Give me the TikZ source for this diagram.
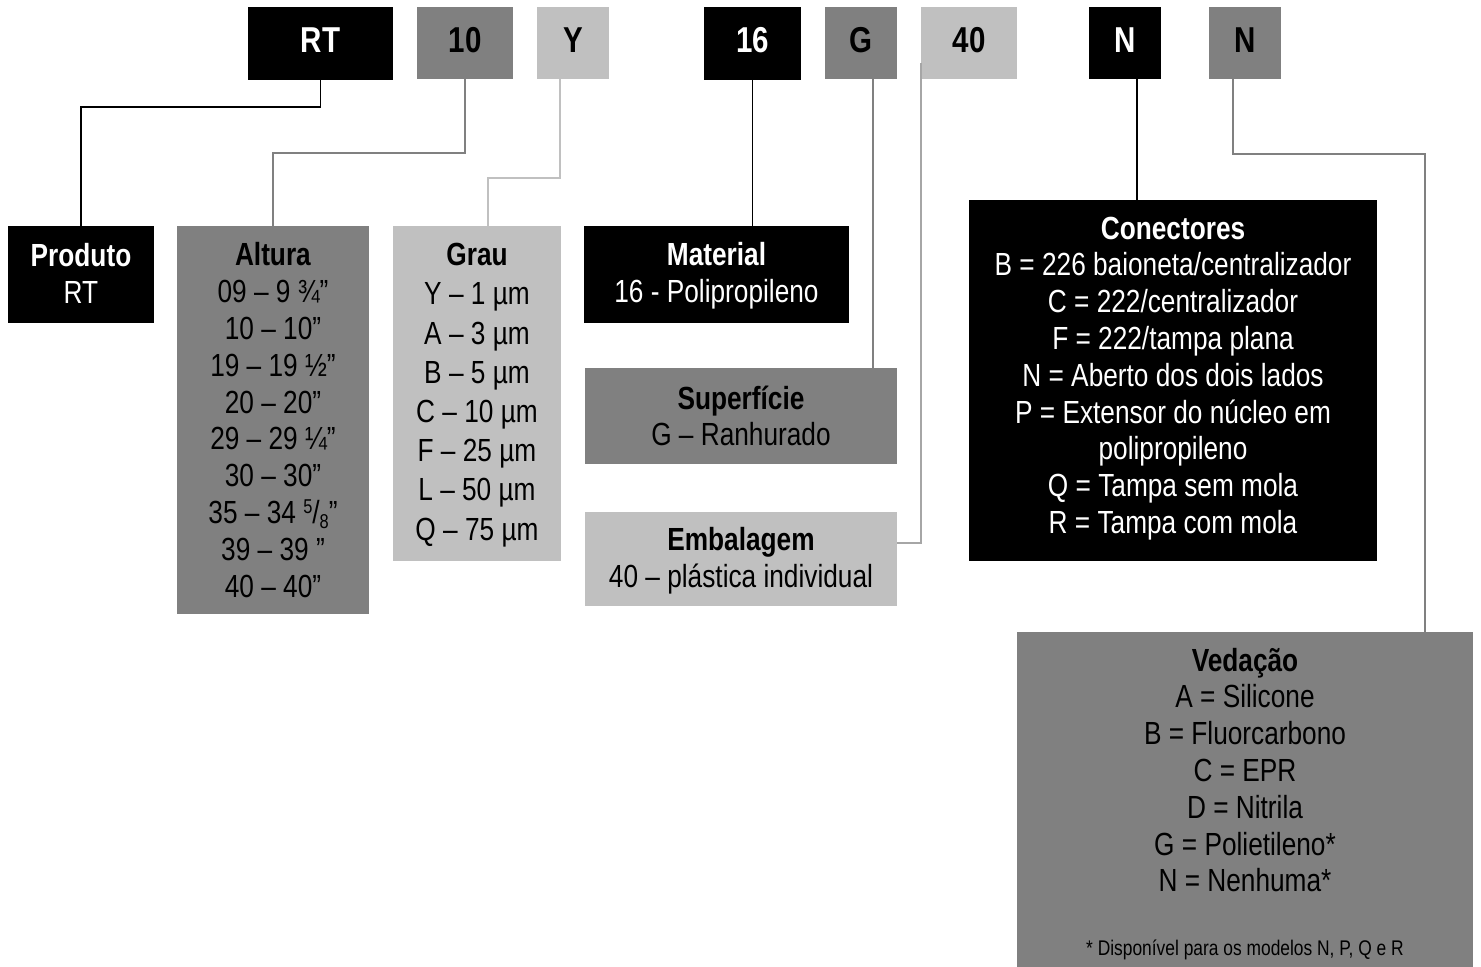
\documentclass[tikz,border=0pt]{standalone}
\usepackage{fontspec}
\setmainfont{Liberation Sans}[FakeStretch=0.82]
\usetikzlibrary{fit,calc}
\definecolor{cgray}{HTML}{808080}
\definecolor{clight}{HTML}{C0C0C0}
\definecolor{cline}{HTML}{A6A6A6}
\newcommand\fiveeighths{\raisebox{5pt}{\fontsize{10}{10}\selectfont 5}/\raisebox{-2.5pt}{\fontsize{10}{10}\selectfont 8}}
\begin{document}
\begin{tikzpicture}[x=0.5pt,y=-0.5pt,
  box/.style={inner sep=0pt, outer sep=0pt, draw=none},
  code/.style={font=\fontsize{18}{20}\selectfont\bfseries, inner sep=0pt},
  body/.style={align=center, font=\fontsize{16}{18.4}\selectfont, inner sep=0pt},
  ln/.style={line width=0.8pt, draw=#1}]
\useasboundingbox (0,0) rectangle (1481,967);
% top code boxes
\node[box, fill=black,  fit={(248,7)(393,80)}]   (rt)  {};
\node[box, fill=cgray,  fit={(417,7)(513,79)}]   (b10) {};
\node[box, fill=clight, fit={(537,7)(609,79)}]   (bY)  {};
\node[box, fill=black,  fit={(704,7)(801,80)}]   (b16) {};
\node[box, fill=cgray,  fit={(825,7)(897,79)}]   (bG)  {};
\node[box, fill=clight, fit={(921,7)(1017,79)}]  (b40) {};
\node[box, fill=black,  fit={(1089,7)(1161,79)}] (bN1) {};
\node[box, fill=cgray,  fit={(1209,7)(1281,79)}] (bN2) {};
\node[code, text=white] (trt)  at ($(rt.center)+(0,-3)$)  {RT};
\node[code]             (t10)  at ($(b10.center)+(0,-3)$) {10};
\node[code]             (tY)   at ($(bY.center)+(0,-3)$)  {Y};
\node[code, text=white] (t16)  at ($(b16.center)+(0,-3)$) {16};
\node[code]             (tG)   at ($(bG.center)+(0,-3)$)  {G};
\node[code]             (t40)  at ($(b40.center)+(0,-3)$) {40};
\node[code, text=white] (tN1)  at ($(bN1.center)+(0,-3)$) {N};
\node[code]             (tN2)  at ($(bN2.center)+(0,-3)$) {N};
% description boxes
\node[box, fill=black,  fit={(8,226)(154,323)}]     (prod) {};
\node[box, fill=cgray,  fit={(177,226)(369,614)}]   (alt)  {};
\node[box, fill=clight, fit={(393,226)(561,561)}]   (grau) {};
\node[box, fill=black,  fit={(584,226)(849,323)}]   (mat)  {};
\node[box, fill=cgray,  fit={(585,368)(897,464)}]   (sup)  {};
\node[box, fill=clight, fit={(585,512)(897,606)}]   (emb)  {};
\node[box, fill=black,  fit={(969,200)(1377,561)}]  (con)  {};
\node[box, fill=cgray,  fit={(1017,632)(1473,967)}] (ved)  {};
% texts
\node[body, text=white] (tprod) at ($(prod.center)+(0,-1)$) {\textbf{Produto}\\RT};
\node[body] (talt) at (alt.center) {\textbf{Altura}\\09 – 9 ¾”\\10 – 10”\\19 – 19 ½”\\20 – 20”\\29 – 29 ¼”\\30 – 30”\\35 – 34 \fiveeighths”\\39 – 39 ”\\40 – 40”};
\node[body, font=\fontsize{16}{19.6}\selectfont] (tgrau) at ($(grau.center)+(0,1.5)$) {\textbf{Grau}\\Y – 1 µm\\A – 3 µm\\B – 5 µm\\C – 10 µm\\F – 25 µm\\L – 50 µm\\Q – 75 µm};
\node[body, text=white] (tmat) at ($(mat.center)+(0,1)$) {\textbf{Material}\\16 - Polipropileno};
\node[body] (tsup) at (sup.center) {\textbf{Superfície}\\G – Ranhurado};
\node[body] (temb) at ($(emb.center)+(0,2)$) {\textbf{Embalagem}\\40 – plástica individual};
\node[body, text=white] (tcon) at ($(con.center)+(0,-2)$) {\textbf{Conectores}\\B = 226 baioneta/centralizador\\C = 222/centralizador\\F = 222/tampa plana\\N = Aberto dos dois lados\\P = Extensor do núcleo em\\polipropileno\\Q = Tampa sem mola\\R = Tampa com mola};
\node[body] (tved) at ($(ved.north)+(0,138)$) {\textbf{Vedação}\\A = Silicone\\B = Fluorcarbono\\C = EPR\\D = Nitrila\\G = Polietileno*\\N = Nenhuma*};
\node[body, font=\fontsize{10.6}{12}\selectfont] (tfoot) at ($(ved.north)+(0,318)$) {* Disponível para os modelos N, P, Q e R};
% connectors
\draw[ln=black] (rt.south) -- ++(0,27) -| (prod.north);
\draw[ln=cgray] (b10.south) -- ++(0,74) -| (alt.north);
\coordinate (yS) at ($(bY.south west)+(23,0)$);
\coordinate (yE) at ($(grau.north west)+(95,0)$);
\draw[ln=clight] (yS) -- ++(0,99) -| (yE);
\draw[ln=black] (b16.south) -- (b16.south |- mat.north);
\coordinate (gS) at ($(bG.south west)+(48,0)$);
\draw[ln=cgray] (gS) -- (gS |- sup.north);
\coordinate (fS) at ($(b40.south west)+(0,-16)$);
\draw[ln=cline] (fS) |- ($(emb.east)+(0,-16)$);
\coordinate (nS) at ($(bN1.south west)+(48,0)$);
\draw[ln=black] (nS) -- (nS |- con.north);
\coordinate (mS) at ($(bN2.south west)+(24,0)$);
\coordinate (mE) at ($(ved.north west)+(408,0)$);
\draw[ln=cgray] (mS) -- ++(0,75) -| (mE);
\end{tikzpicture}
\end{document}
